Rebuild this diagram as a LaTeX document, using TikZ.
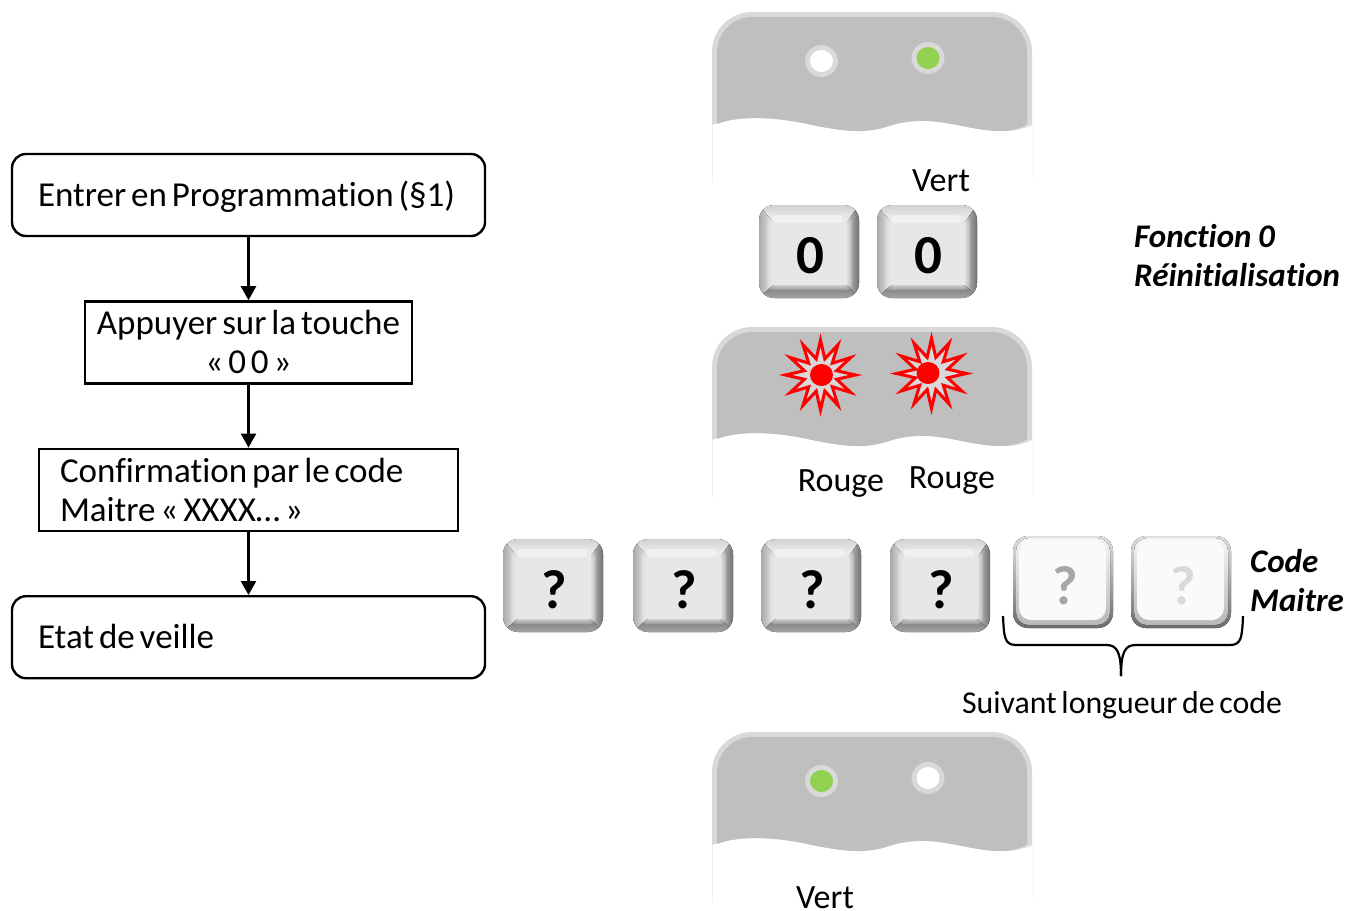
\documentclass[tikz,border=0pt]{standalone}
\usepackage{fontspec}
\setmainfont[WordSpace=0.65,Ligatures=NoCommon]{Carlito}
\usetikzlibrary{shapes.geometric, arrows, positioning, calc}
\usetikzlibrary{arrows.meta}
\definecolor{panelgray}{HTML}{BFBFBF}
\definecolor{panelrim}{HTML}{D9D9D9}
\definecolor{ledgreen}{HTML}{92D050}
\definecolor{facegray}{HTML}{E7E7E7}
\tikzstyle{flowbox} = [rectangle, line width=2.4pt, draw=black, minimum height=82pt, inner xsep=26pt, text width=421pt, align=left, font=\fontsize{35}{39}\selectfont, execute at begin node={\spaceskip=.14em\relax}]
\tikzstyle{flowround} = [flowbox, rounded corners=14pt, text height=26pt, text depth=3pt]
\tikzstyle{arrow} = [line width=2.4pt,-{Triangle[length=14pt,width=15pt]}]
\tikzstyle{caption} = [font=\fontsize{34}{39}\selectfont, inner sep=0pt]
\tikzstyle{bolditalic} = [caption, font=\fontsize{33}{39}\selectfont\bfseries\itshape, align=left, execute at begin node={\spaceskip=.2em\relax}]
\tikzstyle{keylabel} = [inner sep=0pt, font=\fontsize{55}{55}\selectfont\bfseries]
% key: name, x, y, text
\newcommand{\keycap}[4]{
    \begin{scope}[shift={(#2,#3)}]
        \begin{scope}
            \clip [rounded corners=15pt] (0,0) rectangle (100,93);
            \fill [left color=black!34, right color=facegray!80!white] (0,0) -- (14,17) -- (14,80) -- (0,93) -- cycle;
            \fill [top color=black!18, bottom color=white!95!black] (0,0) -- (100,0) -- (88,17) -- (14,17) -- cycle;
            \fill [left color=black!24, right color=black!56] (88,17) -- (100,0) -- (100,93) -- (88,80) -- cycle;
            \fill [top color=black!52, bottom color=black!36] (14,80) -- (88,80) -- (100,93) -- (0,93) -- cycle;
        \end{scope}
        \foreach \blur in {5,3.5,2,1} {
            \fill [facegray, fill opacity=.3, rounded corners=5pt] (13-\blur,17-\blur) rectangle (88+\blur,80+\blur);
        }
        \fill [facegray, rounded corners=3pt] (13,17) rectangle (88,80);
        \fill [white!96!black, fill opacity=.7, rounded corners=3pt] (14,10) rectangle (84,18);
        \node (#1) [keylabel] at (51.5,51) {#4};
    \end{scope}
}
% pale key: name, x, y, text, text colour
\newcommand{\palecap}[5]{
    \begin{scope}[shift={(#2,#3)}]
        \fill [rounded corners=15pt, shading=axis, shading angle=20, top color=black!12, bottom color=black!58] (0,0) rectangle (100,92);
        \fill [rounded corners=13pt, shading=axis, shading angle=20, top color=black!4, bottom color=black!28] (3,2) rectangle (97,89);
        \fill [white!98!black, rounded corners=12pt] (6,4) rectangle (93,84);
        \node (#1) [keylabel, text=#5] at (52,50) {#4};
    \end{scope}
}
% panel: name, y
\newcommand{\panel}[2]{
    \begin{scope}[shift={(712,#2)}]
        \draw [black!6, line width=1pt] (0,113) -- (0,170);
        \draw [black!2, line width=1pt] (320,113) -- (320,170);
        \fill [panelrim] (0,113) -- (0,40) arc [start angle=180, end angle=270, radius=40] -- (280,0) arc [start angle=270, end angle=360, radius=40] -- (320,113)
            .. controls (300,122) and (280,120) .. (250,114) .. controls (225,109) and (205,106) .. (180,113)
            .. controls (155,122) and (135,120) .. (100,113) .. controls (70,106) and (30,102) .. (0,113) -- cycle;
        \fill [panelgray] (5,112) -- (5,40) arc [start angle=180, end angle=270, radius=35] -- (280,5) arc [start angle=270, end angle=360, radius=35] -- (315,112)
            .. controls (300,122) and (280,120) .. (250,114) .. controls (225,109) and (205,106) .. (180,113)
            .. controls (155,122) and (135,120) .. (100,113) .. controls (70,106) and (30,102) .. (5,112) -- cycle;
    \end{scope}
}
\tikzstyle{ledring} = [ellipse, fill=panelrim, inner sep=0pt, minimum width=33pt, minimum height=32pt]
\tikzstyle{ledon} = [ellipse, inner sep=0pt, minimum width=23pt, minimum height=22pt]
\tikzstyle{burst} = [star, star points=12, star point ratio=2.1, draw=red, line width=3pt, fill=panelrim, inner sep=0pt, minimum size=70pt]

\begin{document}
\begin{tikzpicture}[x=1pt, y=-1pt, node distance=63pt]
    \useasboundingbox (0,0) rectangle (1359,910);

    % flowchart
    \node (entrer) [flowround] at (248.5,195) {Entrer en Programmation (§1)};
    \node (appuyer) [flowbox, below=of entrer, minimum width=327pt, text width=320pt, align=center, inner xsep=0pt] {Appuyer sur la touche\\« 0 0 »};
    \node (confirm) [flowbox, below=of appuyer, text width=377pt, inner xsep=21pt] {Confirmation par le code\\Maitre « XXXX… »};
    \node (veille) [flowround, below=of confirm] {Etat de veille};

    \draw [arrow] (entrer) -- (appuyer);
    \draw [arrow] (appuyer) -- (confirm);
    \draw [arrow] (confirm) -- (veille);

    % panels
    \panel{panelA}{12}
    \panel{panelB}{327}
    \panel{panelC}{732}

    \node (ringA1) [ledring] at (821.5,61) {};
    \node (ledA1) [ledon, fill=white] at (ringA1) {};
    \node (ringA2) [ledring] at (928,58) {};
    \node (ledA2) [ledon, fill=ledgreen] at (ringA2) {};

    \node (burstB1) [burst] at (820.5,375) {};
    \node (ledB1) [ledon, fill=red] at (821.5,375) {};
    \node (burstB2) [burst] at (931.5,373.5) {};
    \node (ledB2) [ledon, fill=red] at (928,373) {};

    \node (ringC1) [ledring] at (821.5,781) {};
    \node (ledC1) [ledon, fill=ledgreen] at (ringC1) {};
    \node (ringC2) [ledring] at (928,778) {};
    \node (ledC2) [ledon, fill=white] at (ringC2) {};

    \node (vertA) [caption] at (941,181) {Vert};
    \node (rougeB1) [caption] at (841,484) {Rouge};
    \node (rougeB2) [caption] at (952,481) {Rouge};
    \node (vertC) [caption] at (825,898) {Vert};

    % keys
    \keycap{zeroA}{759}{205}{0}
    \keycap{zeroB}{877}{205}{0}
    \keycap{codeA}{503}{539}{?}
    \keycap{codeB}{633}{539}{?}
    \keycap{codeC}{761}{539}{?}
    \keycap{codeD}{890}{539}{?}
    \palecap{codeE}{1013}{536}{?}{black!35}
    \palecap{codeF}{1131}{536}{?}{black!15}

    \node (fonction) [bolditalic, anchor=west] at (1134,255.5) {Fonction 0\\Réinitialisation};
    \node (maitre) [bolditalic, anchor=west] at (1250,581) {Code\\Maitre};

    % brace
    \coordinate (braceL) at (1003,616);
    \coordinate (braceR) at (1243,616);
    \coordinate (braceT) at (1121,676);
    \draw [line width=2.2pt] (braceL) .. controls (1004,636) and (1004,645) .. (1016,645) -- (1106,645) .. controls (1116,645) and (1121,650) .. (braceT);
    \draw [line width=2.2pt] (braceR) .. controls (1242,636) and (1242,645) .. (1230,645) -- (1136,645) .. controls (1126,645) and (1121,650) .. (braceT);
    \node (suivant) [caption, font=\fontsize{31.8}{36}\selectfont] at (1122,705) {Suivant longueur de code};
\end{tikzpicture}
\end{document}
